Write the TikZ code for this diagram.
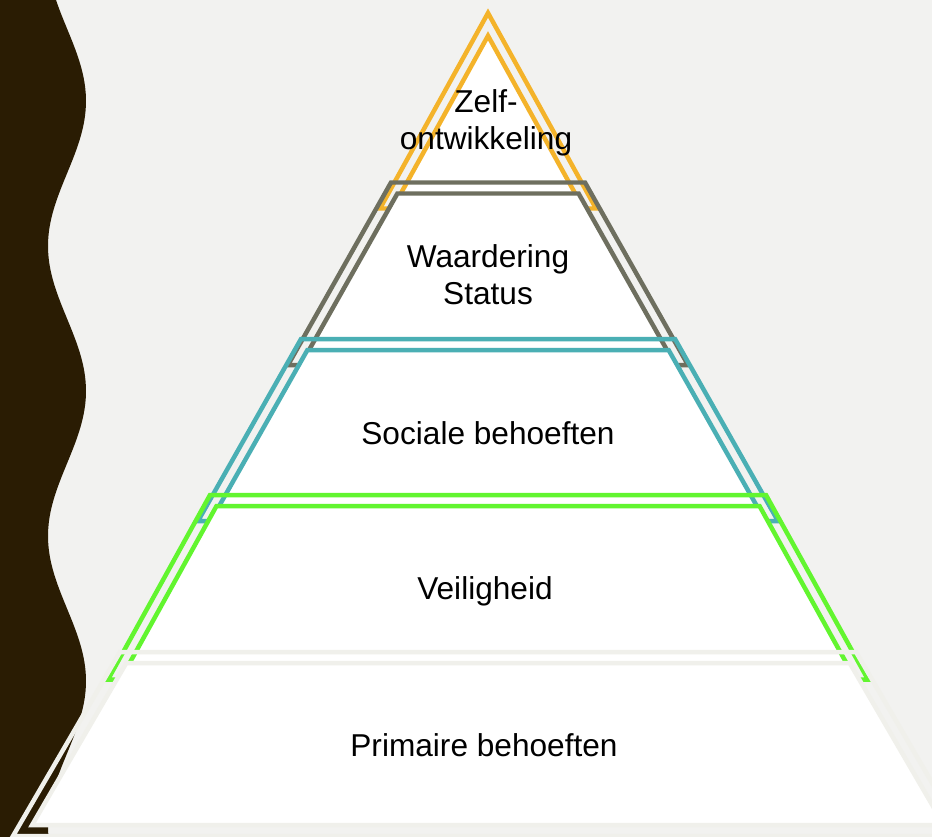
\documentclass[tikz,border=0pt]{standalone}
\usepackage{fontspec}
\setmainfont{Liberation Sans}
\usepackage{tikz}
\definecolor{pagegrey}{RGB}{242,242,240}
\definecolor{stripbrown}{RGB}{42,28,3}
\definecolor{topgold}{RGB}{244,179,42}
\definecolor{statusgrey}{RGB}{110,111,95}
\definecolor{socialteal}{RGB}{74,175,180}
\definecolor{safegreen}{RGB}{98,245,47}
\definecolor{baserim}{RGB}{240,240,235}

\begin{document}
\begin{tikzpicture}[x=0.02cm,y=-0.02cm,
    outerrim/.style={draw=#1,line width=2.55pt,line join=miter},
    innerrim/.style={draw=#1,fill=white,line width=2.55pt,line join=miter},
    lvltext/.style={align=center,font=\fontsize{18}{21}\selectfont,inner sep=0pt}]

    % Background
    \useasboundingbox (0,0) rectangle (932,836);
    \clip (0,0) rectangle (932,836);
    \fill[pagegrey] (0,0) rectangle (932,836);

    % Wavy strip
    \fill[stripbrown] (0,-2) -- plot[domain=-2:838,samples=150]
        ({67+19*cos(1.24138*(\x-101))},\x) -- (0,838) -- cycle;

    % Level 1
    \draw[outerrim=topgold] (488,13) -- (596,208.5) -- (380,208.5) -- cycle;
    \draw[innerrim=topgold] (488,35.8) -- (577.4,197.5) -- (398.6,197.5) -- cycle;

    % Level 2
    \draw[outerrim=statusgrey] (391,182.5) -- (585,182.5) -- (688,365) -- (288,365) -- cycle;
    \draw[innerrim=statusgrey] (397.4,193.5) -- (578.6,193.5) -- (669.2,354) -- (306.8,354) -- cycle;

    % Level 3
    \draw[outerrim=socialteal] (301,339) -- (675,339) -- (778,521) -- (198,521) -- cycle;
    \draw[innerrim=socialteal] (307.4,350) -- (668.6,350) -- (759.1,510) -- (216.9,510) -- cycle;

    % Level 4
    \draw[outerrim=safegreen] (210,495) -- (766,495) -- (868,679.5) -- (108,679.5) -- cycle;
    \draw[innerrim=safegreen] (216.5,506) -- (759.5,506) -- (849.4,668.5) -- (126.6,668.5) -- cycle;

    % Level 5
    \draw[outerrim=baserim] (120,652) -- (856,652) -- (963,836) -- (13,836) -- cycle;
    \draw[innerrim=baserim] (126.3,663) -- (849.7,663) -- (943.9,825) -- (32.1,825) -- cycle;

    % Labels
    \node[lvltext] (selfdev) at (486,122.5) {Zelf-\\ontwikkeling};
    \node[lvltext] (esteem) at (488,275) {Waardering\\Status};
    \node[lvltext,anchor=base] (social) at (488,444) {Sociale behoeften};
    \node[lvltext,anchor=base] (safety) at (485,599) {Veiligheid};
    \node[lvltext,anchor=base] (basic) at (484,756) {Primaire behoeften};

\end{tikzpicture}
\end{document}
